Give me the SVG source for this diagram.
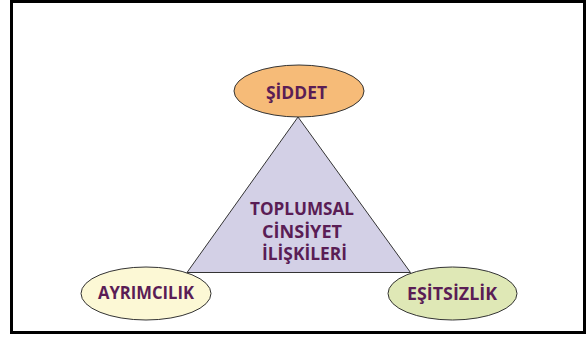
<svg xmlns="http://www.w3.org/2000/svg" width="587" height="338" viewBox="0 0 587 338">
<style>
.lbl{font-family:"Open Sans","DejaVu Sans",sans-serif;font-weight:700;font-size:18px;fill:#5a1d55;text-anchor:middle}
.shape{stroke:#333;stroke-width:1}
</style>
<rect x="0" y="0" width="587" height="338" fill="#fff"/>
<rect x="11.5" y="1.5" width="573" height="331" fill="#fff" stroke="#000" stroke-width="3"/>
<g id="connectors"></g>
<g id="triangle">
<polygon class="shape" points="298,117 187,272.5 410.5,272.5" fill="#d3d0e6"/>
<text class="lbl" x="302" y="215" textLength="104" lengthAdjust="spacingAndGlyphs">TOPLUMSAL</text>
<text class="lbl" x="302" y="238" textLength="80" lengthAdjust="spacingAndGlyphs">CİNSİYET</text>
<text class="lbl" x="304.5" y="260" textLength="85" lengthAdjust="spacingAndGlyphs">İLİŞKİLERİ</text>
</g>
<g id="siddet">
<ellipse class="shape" cx="299" cy="91" rx="65" ry="26" fill="#f6bb78"/>
<text class="lbl" x="296.5" y="99" textLength="61" lengthAdjust="spacingAndGlyphs">ŞİDDET</text>
</g>
<g id="ayrimcilik">
<ellipse class="shape" cx="146" cy="293.5" rx="65" ry="26.5" fill="#fcf8d5"/>
<text class="lbl" x="146" y="299" textLength="96" lengthAdjust="spacingAndGlyphs">AYRIMCILIK</text>
</g>
<g id="esitsizlik">
<ellipse class="shape" cx="452.5" cy="293.5" rx="64.5" ry="26.5" fill="#dfe8b6"/>
<text class="lbl" x="452" y="300" textLength="90" lengthAdjust="spacingAndGlyphs">EŞİTSİZLİK</text>
</g>
</svg>
